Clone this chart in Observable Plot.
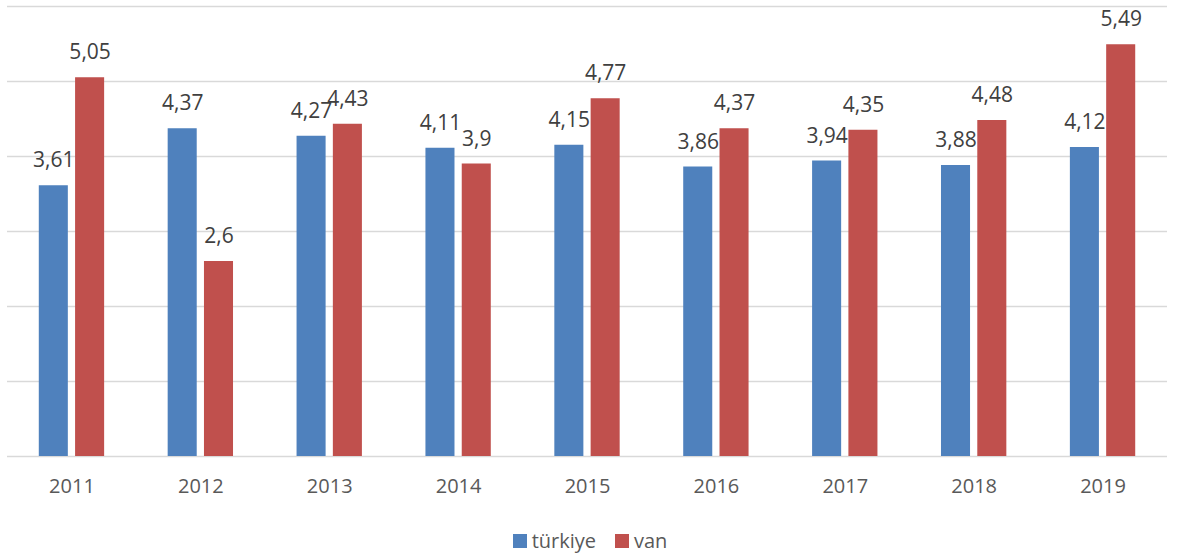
<!DOCTYPE html>
<html><head><meta charset="utf-8">
<script src="https://cdn.jsdelivr.net/npm/d3@7"></script>
<script src="https://cdn.jsdelivr.net/npm/@observablehq/plot@0.6"></script>
<style>
body{margin:0;background:#fff;font-family:"Open Sans",sans-serif;}
#legend{height:47px;box-sizing:border-box;padding-top:14px;display:flex;justify-content:center;align-items:center;gap:19px;font-size:20px;color:#595959;}
#legend .item{display:flex;align-items:center;gap:5px;}
#legend .sw{width:14px;height:14px;display:inline-block;}
</style>
</head><body>
<div id="chart"></div>
<div id="legend"></div>
<script>
const years = ["2011","2012","2013","2014","2015","2016","2017","2018","2019"];
const turkiye = [3.61,4.37,4.27,4.11,4.15,3.86,3.94,3.88,4.12];
const van = [5.05,2.6,4.43,3.9,4.77,4.37,4.35,4.48,5.49];
const yTicks = [0,1,2,3,4,5,6];
const seriesNames = ["türkiye","van"];
const colors = ["#4f81bd","#c0504d"];

const tData = years.map((y,i)=>({year:y, value:turkiye[i]}));
const vData = years.map((y,i)=>({year:y, value:van[i]}));
const fmt = v => String(v).replace(".", ",");

const chart = Plot.plot({
  width: 1180,
  height: 510,
  marginTop: 6,
  marginBottom: 54,
  marginLeft: 7,
  marginRight: 13,
  style: {fontFamily: "Open Sans, sans-serif", fontSize: "20px", color: "#595959", background: "#fff"},
  x: {domain: years, paddingInner: 0.493, paddingOuter: 0.2466, round: false, tickSize: 0, tickPadding: 22, label: null},
  y: {domain: [0, 6], axis: null},
  marks: [
    Plot.ruleY(yTicks, {stroke: "#d9d9d9", strokeWidth: 1.5}),
    Plot.barY(tData, {x: "year", y: "value", fill: colors[0], insetRight: 36.3}),
    Plot.barY(vData, {x: "year", y: "value", fill: colors[1], insetLeft: 36.3}),
    Plot.text(tData, {x: "year", y: "value", text: d => fmt(d.value), dx: -18.15, dy: -25, fill: "#404040", fontSize: 21}),
    Plot.text(vData, {x: "year", y: "value", text: d => fmt(d.value), dx: 18.15, dy: -25, fill: "#404040", fontSize: 21})
  ]
});
document.getElementById("chart").appendChild(chart);

const legend = document.getElementById("legend");
seriesNames.forEach((n,i)=>{
  const it = document.createElement("div");
  it.className = "item";
  const sw = document.createElement("span");
  sw.className = "sw";
  sw.style.background = colors[i];
  const tx = document.createElement("span");
  tx.textContent = n;
  it.appendChild(sw); it.appendChild(tx);
  legend.appendChild(it);
});
</script>
</body></html>
